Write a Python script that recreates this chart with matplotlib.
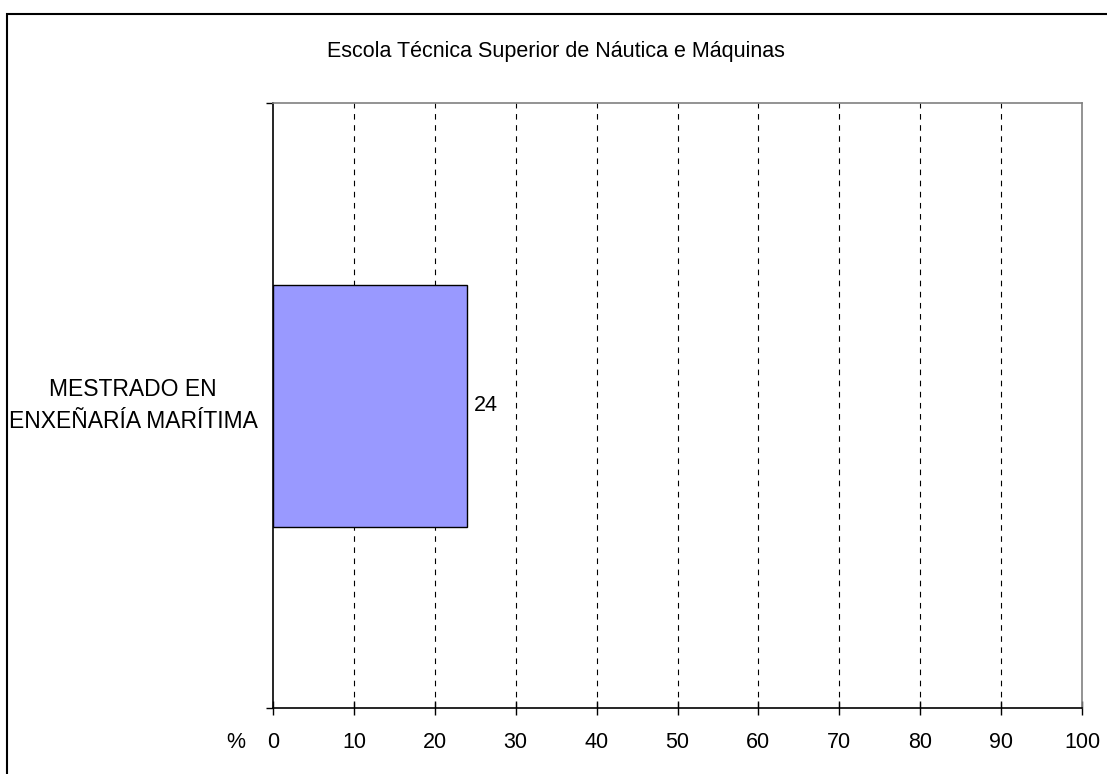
import matplotlib.pyplot as plt
from matplotlib.patches import Rectangle

plt.rcParams['font.family'] = ['Liberation Sans', 'DejaVu Sans']

# datos
categorias = ["MESTRADO EN\nENXEÑARÍA MARÍTIMA"]
valores = [24]
xticks = [0, 10, 20, 30, 40, 50, 60, 70, 80, 90, 100]
titulo = "Escola Técnica Superior de Náutica e Máquinas"

fig = plt.figure(figsize=(11.07, 7.74), dpi=100)
ax = fig.add_axes([273 / 1107, 66 / 774, 809 / 1107, 605 / 774])

# marco exterior
fig.patches.append(Rectangle((7 / 1107, -0.1), 1.2, (774 - 14) / 774 + 0.1,
                             transform=fig.transFigure, fill=False,
                             edgecolor='black', linewidth=1.5))

ypos = list(range(len(categorias)))
ax.barh(ypos, valores, height=0.4, color='#9999FF', edgecolor='black', linewidth=1.0, zorder=3)
for y, v in zip(ypos, valores):
    ax.text(v + 0.8, y, str(v), va='center', ha='left', fontsize=15.5)
    ax.text(-0.019, 0.5, categorias[y], transform=ax.transAxes, ha='right', va='center',
            multialignment='center', fontsize=16.5, linespacing=1.45)

ax.set_xlim(0, 100)
ax.set_ylim(-0.5, len(categorias) - 0.5)
ax.set_xticks(xticks)
ax.set_xticklabels([str(t) for t in xticks], fontsize=15.5)
ax.set_yticks([-0.5, 0.5])
ax.set_yticklabels([])
ax.tick_params(axis='x', direction='inout', length=10, width=1, pad=12.5)
ax.tick_params(axis='y', direction='out', length=5, width=1)

for t in xticks[1:-1]:
    ax.axvline(t, color='black', linestyle=(0, (5, 5)), linewidth=0.8, zorder=1)

ax.spines['left'].set_color('black')
ax.spines['bottom'].set_color('black')
ax.spines['top'].set_color('#808080')
ax.spines['right'].set_color('#808080')
for s in ax.spines.values():
    s.set_linewidth(1.2)

ax.text(-0.046, -0.0565, "%", transform=ax.transAxes, ha='center', va='center', fontsize=15.5)
fig.text(556 / 1107, 1 - 51 / 774, titulo, ha='center', va='center', fontsize=15.5)

fig.savefig('out.png', dpi=100)
